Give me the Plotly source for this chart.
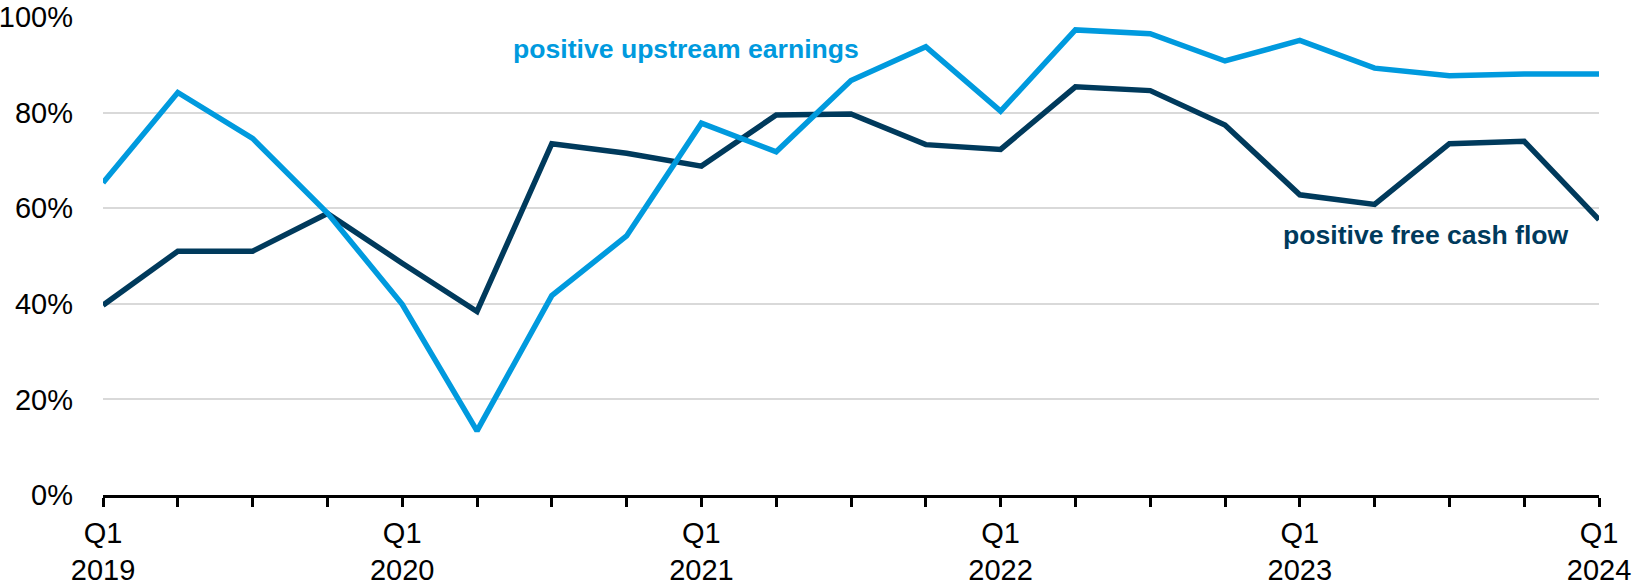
import plotly.graph_objects as go

quarters = ["Q1 2019", "Q2 2019", "Q3 2019", "Q4 2019",
            "Q1 2020", "Q2 2020", "Q3 2020", "Q4 2020",
            "Q1 2021", "Q2 2021", "Q3 2021", "Q4 2021",
            "Q1 2022", "Q2 2022", "Q3 2022", "Q4 2022",
            "Q1 2023", "Q2 2023", "Q3 2023", "Q4 2023",
            "Q1 2024"]
tick_labels = ["Q1<br>2019", "", "", "",
               "Q1<br>2020", "", "", "",
               "Q1<br>2021", "", "", "",
               "Q1<br>2022", "", "", "",
               "Q1<br>2023", "", "", "",
               "Q1<br>2024"]
upstream_earnings = [65.3, 84.2, 74.6, 59.0, 39.9, 13.4, 41.7, 54.2, 77.8, 71.8,
                     86.7, 93.8, 80.3, 97.3, 96.5, 90.8, 95.1, 89.3, 87.7, 88.1, 88.1]
free_cash_flow = [39.7, 51.0, 51.0, 58.9, 48.5, 38.4, 73.5, 71.5, 68.8, 79.5,
                  79.7, 73.3, 72.3, 85.4, 84.6, 77.4, 62.8, 60.8, 73.5, 74.0, 57.6]
y_ticks = [0, 20, 40, 60, 80, 100]
y_tick_labels = ["0%", "20%", "40%", "60%", "80%", "100%"]

LIGHT = "#009ADE"
DARK = "#003A5C"
FONT = "Liberation Sans, Arial, sans-serif"

xs = list(range(len(quarters)))

fig = go.Figure()
fig.add_trace(go.Scatter(x=xs, y=free_cash_flow, mode="lines", name="positive free cash flow",
                         line=dict(color=DARK, width=5.5), hoverinfo="skip", cliponaxis=False))
fig.add_trace(go.Scatter(x=xs, y=upstream_earnings, mode="lines", name="positive upstream earnings",
                         line=dict(color=LIGHT, width=5.5), hoverinfo="skip", cliponaxis=False))

fig.add_annotation(x=5.46, y=93.4, xref="x", yref="y", text="<b>positive upstream earnings</b>",
                   showarrow=False, xanchor="left", yanchor="middle",
                   font=dict(family=FONT, size=26.6, color=LIGHT))
fig.add_annotation(x=19.62, y=54.4, xref="x", yref="y", text="<b>positive free cash flow</b>",
                   showarrow=False, xanchor="right", yanchor="middle",
                   font=dict(family=FONT, size=26.6, color=DARK))

fig.update_layout(
    width=1633, height=585,
    margin=dict(l=103, r=34, t=17, b=90, autoexpand=False),
    paper_bgcolor="white", plot_bgcolor="white",
    showlegend=False,
    font=dict(family=FONT, size=29, color="black"),
    xaxis=dict(range=[0, 20], tickmode="array", tickvals=xs, ticktext=tick_labels,
               showgrid=False, zeroline=False, showline=True, linecolor="black", linewidth=2.5,
               ticks="outside", ticklen=9, tickwidth=2.5, tickcolor="black", automargin=False,
               ticklabelstandoff=1, tickfont=dict(family=FONT, size=29, color="black")),
    yaxis=dict(range=[0, 100], tickmode="array", tickvals=y_ticks, ticktext=y_tick_labels,
               showgrid=True, gridcolor="#D9D9D9", gridwidth=2, zeroline=False, showline=False,
               ticks="", ticklabelstandoff=29, automargin=False,
               tickfont=dict(family=FONT, size=29, color="black")),
)

fig.write_html("out.html", config={"displayModeBar": False},
               post_script="document.body.style.margin='0';document.body.style.overflow='hidden';")
